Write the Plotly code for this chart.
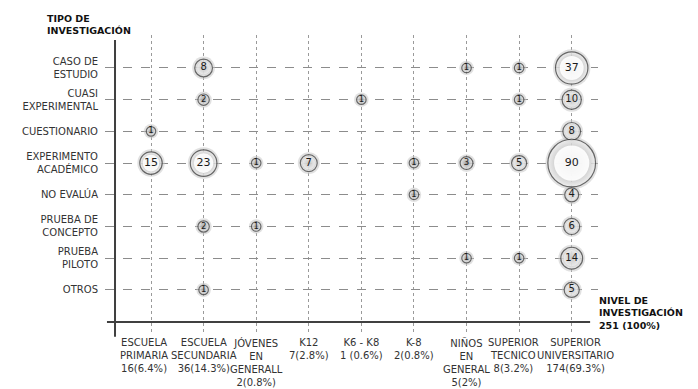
import plotly.graph_objects as go
import math

# ---- data ----
niveles = ["Primaria", "Secundaria", "Jovenes", "K12", "K6-K8", "K-8", "Ninos", "SupTec", "SupUniv"]
nivel_labels = [
    "ESCUELA<br>PRIMARIA<br>16(6.4%)",
    "ESCUELA<br>SECUNDARIA<br>36(14.3%)",
    "JÓVENES<br>EN<br>GENERALL<br>2(0.8%)",
    "K12<br>7(2.8%)",
    "K6 - K8<br>1 (0.6%)",
    "K-8<br>2(0.8%)",
    "NIÑOS<br>EN<br>GENERAL<br>5(2%)",
    "SUPERIOR<br>TECNICO<br>8(3.2%)",
    "SUPERIOR<br>UNIVERSITARIO<br>174(69.3%)",
]
tipos = ["Caso", "Cuasi", "Cuest", "Exp", "NoEval", "Concepto", "Piloto", "Otros"]
tipo_labels = [
    "CASO DE<br>ESTUDIO",
    "CUASI<br>EXPERIMENTAL",
    "CUESTIONARIO",
    "EXPERIMENTO<br>ACADÉMICO",
    "NO EVALÚA",
    "PRUEBA DE<br>CONCEPTO",
    "PRUEBA<br>PILOTO",
    "OTROS",
]
punto_tipo = ["Caso", "Caso", "Caso", "Caso",
              "Cuasi", "Cuasi", "Cuasi", "Cuasi",
              "Cuest", "Cuest",
              "Exp", "Exp", "Exp", "Exp", "Exp", "Exp", "Exp", "Exp",
              "NoEval", "NoEval",
              "Concepto", "Concepto", "Concepto",
              "Piloto", "Piloto", "Piloto",
              "Otros", "Otros"]
punto_nivel = ["Secundaria", "Ninos", "SupTec", "SupUniv",
               "Secundaria", "K6-K8", "SupTec", "SupUniv",
               "Primaria", "SupUniv",
               "Primaria", "Secundaria", "Jovenes", "K12", "K-8", "Ninos", "SupTec", "SupUniv",
               "K-8", "SupUniv",
               "Secundaria", "Jovenes", "SupUniv",
               "Ninos", "SupTec", "SupUniv",
               "Secundaria", "SupUniv"]
punto_valor = [8, 1, 1, 37,
               2, 1, 1, 10,
               1, 8,
               15, 23, 1, 7, 1, 3, 5, 90,
               1, 4,
               2, 1, 6,
               1, 1, 14,
               1, 5]

# ---- styling ----
label_xshift = [-7, 0, 0, 0, 0, 0, 0, -6, 4]   # pixel nudges for the bottom labels
diam = [5 + 4.5 * math.sqrt(v) for v in punto_valor]
fsize = [11 if v >= 15 else (10 if v >= 4 else 8.5) for v in punto_valor]
centre_op = [0.9 if v >= 15 else (0.5 if v >= 4 else 0.15) for v in punto_valor]

fig = go.Figure()
# soft glow
fig.add_trace(go.Scatter(
    x=punto_nivel, y=punto_tipo, mode="markers",
    marker=dict(size=[d + 5 for d in diam], color="#c4c4c4", opacity=0.5, line=dict(width=0)),
    hoverinfo="skip", showlegend=False))
# rim with radial gradient
fig.add_trace(go.Scatter(
    x=punto_nivel, y=punto_tipo, mode="markers",
    marker=dict(size=diam, color="#f4f4f4",
                gradient=dict(type="radial", color="#6e6e6e"),
                line=dict(width=1.2, color="#333333")),
    hoverinfo="skip", showlegend=False))
# white centre + value text
fig.add_trace(go.Scatter(
    x=punto_nivel, y=punto_tipo, mode="markers+text",
    marker=dict(size=[d * 0.74 for d in diam], color="#ffffff", opacity=centre_op, line=dict(width=0)),
    text=[str(v) for v in punto_valor], textposition="middle center",
    textfont=dict(family="DejaVu Sans", size=fsize, color="#1a1a1a"),
    showlegend=False))

fig.update_xaxes(
    type="category", categoryorder="array", categoryarray=niveles,
    tickvals=niveles, showticklabels=False, automargin=False,
    range=[-0.875, 8.5],
    showgrid=True, gridcolor="#9a9a9a", griddash="dot", gridwidth=1,
    zeroline=False, showline=False, ticks="",
)
fig.update_yaxes(
    type="category", categoryorder="array", categoryarray=tipos,
    tickvals=tipos, ticktext=tipo_labels, automargin=False,
    range=[8.36, -1.04],
    showgrid=True, gridcolor="#8c8c8c", griddash="dash", gridwidth=1,
    zeroline=False, showline=False, ticks="", ticklabelstandoff=6,
    tickfont=dict(family="DejaVu Sans", size=10, color="#333333"),
)

# bottom category labels
for nivel, lab, dx in zip(niveles, nivel_labels, label_xshift):
    fig.add_annotation(text=lab, xref="x", yref="paper", x=nivel, y=0, yshift=-2, xshift=dx,
                       xanchor="center", yanchor="top", showarrow=False, align="center",
                       font=dict(family="DejaVu Sans", size=10, color="#333333"))

# axis lines
fig.add_shape(type="line", xref="paper", yref="paper", x0=0.004, x1=0.984, y0=0.037, y1=0.037,
              line=dict(color="#404040", width=2))
fig.add_shape(type="line", xref="paper", yref="paper", x0=0.0203, x1=0.0203, y0=-0.013, y1=0.983,
              line=dict(color="#404040", width=2))

fig.add_annotation(text="<b>TIPO DE<br>INVESTIGACIÓN</b>", xref="paper", yref="paper",
                   x=-0.122, y=1.08, xanchor="left", yanchor="top", showarrow=False, align="left",
                   font=dict(family="DejaVu Sans", size=9.5, color="#111111"))
fig.add_annotation(text="<b>NIVEL DE<br>INVESTIGACIÓN<br>251 (100%)</b>", xref="paper", yref="paper",
                   x=0.998, y=0.135, xanchor="left", yanchor="top", showarrow=False, align="left",
                   font=dict(family="DejaVu Sans", size=9.5, color="#111111"))

fig.update_layout(
    width=690, height=381,
    margin=dict(l=97, r=100, t=27, b=56),
    paper_bgcolor="white", plot_bgcolor="white",
    showlegend=False,
)
fig.write_html("out.html")
